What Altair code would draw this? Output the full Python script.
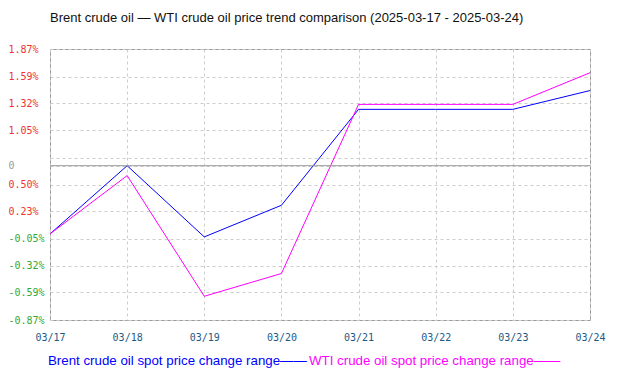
import altair as alt
import pandas as pd
import json

dates = ["03/17", "03/18", "03/19", "03/20", "03/21", "03/22", "03/23", "03/24"]
brent = [0.00, 0.69, -0.03, 0.29, 1.26, 1.26, 1.26, 1.45]
wti = [0.00, 0.59, -0.63, -0.40, 1.31, 1.31, 1.31, 1.63]
baseline_value = [0.69]

y_tick_values = [1.87, 1.59, 1.32, 1.05, 0.77, 0.69, 0.50, 0.23, -0.05, -0.32, -0.59, -0.87]
y_tick_labels = ["1.87%", "1.59%", "1.32%", "1.05%", "", "0", "0.50%", "0.23%",
                 "-0.05%", "-0.32%", "-0.59%", "-0.87%"]

series_names = ["Brent crude oil spot price change range", "WTI crude oil spot price change range"]
series_colors = ["#0000ff", "#ff00ff"]
title_text = "Brent crude oil \u2014 WTI crude oil price trend comparison (2025-03-17 - 2025-03-24)"

rows = []
for d, b, w in zip(dates, brent, wti):
    rows.append({"date": d, "series": series_names[0], "value": b})
    rows.append({"date": d, "series": series_names[1], "value": w})
df = pd.DataFrame(rows)

label_expr = f"{json.dumps(y_tick_labels)}[indexof({json.dumps(y_tick_values)}, datum.value)]"

x_enc = alt.X("date:O", sort=dates, scale=alt.Scale(type="point", padding=0),
              axis=alt.Axis(title=None, labelAngle=0, grid=True, gridColor="#cccccc",
                            gridDash=[3, 3], ticks=False, domain=False,
                            labelFont="DejaVu Sans Mono", labelFontSize=10,
                            labelColor="#1c5a85", labelPadding=12))
y_scale = alt.Scale(domain=[-0.87, 1.87], nice=False, zero=False)
y_axis = alt.Axis(title=None, values=y_tick_values, labelExpr=label_expr,
                  grid=True, gridColor="#cccccc", gridDash=[3, 3],
                  ticks=False, domain=False, labelAlign="left",
                  labelPadding=42, labelOverlap=False, labelBound=False,
                  labelFont="DejaVu Sans Mono", labelFontSize=10,
                  labelColor={"condition": [
                      {"test": "datum.value == 0.69", "value": "#999999"},
                      {"test": "datum.value < 0", "value": "#33aa33"}],
                      "value": "#ee3333"})

lines = alt.Chart(df).mark_line(strokeWidth=1).encode(
    x=x_enc,
    y=alt.Y("value:Q", scale=y_scale, axis=y_axis),
    color=alt.Color("series:N", scale=alt.Scale(domain=series_names, range=series_colors),
                    legend=None),
)

rule = alt.Chart(pd.DataFrame({"v": baseline_value})).mark_rule(
    color="#999999", strokeWidth=1).encode(y=alt.Y("v:Q", scale=y_scale, axis=y_axis))

legend_df = pd.DataFrame({"t": [series_names[0] + "\u2014\u2014"]})
legend_df2 = pd.DataFrame({"t": [series_names[1] + "\u2014\u2014"]})
leg1 = alt.Chart(legend_df).mark_text(align="left", baseline="middle", font="Liberation Sans",
                                      fontSize=13.3, color=series_colors[0]).encode(
    text="t:N", x=alt.value(-2), y=alt.value(312))
leg2 = alt.Chart(legend_df2).mark_text(align="left", baseline="middle", font="Liberation Sans",
                                       fontSize=13.3, color=series_colors[1]).encode(
    text="t:N", x=alt.value(259), y=alt.value(312))

chart = alt.layer(lines, rule, leg1, leg2).properties(
    width=540, height=271,
    title=alt.Title(title_text, anchor="start", frame="group", font="Liberation Sans",
                    fontSize=13, fontWeight="normal", color="#111111", offset=19),
    autosize=alt.AutoSizeParams(type="none"),
    padding={"left": 42, "top": 41, "right": 25, "bottom": 50},
).configure_view(stroke="#999999", strokeWidth=1).configure_axis(labelOverlap=False)

chart.save("out.html", embed_options={"renderer": "svg", "actions": False})
